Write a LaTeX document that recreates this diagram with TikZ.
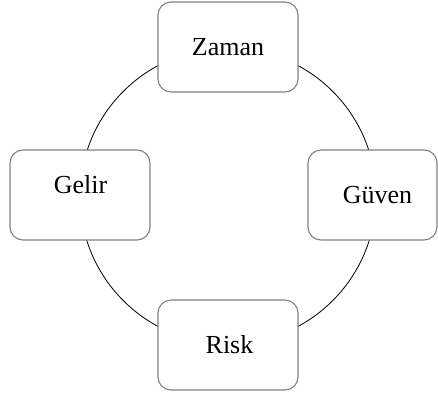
\documentclass[tikz,border=0pt]{standalone}
\usepackage{fontspec}
\setmainfont{Liberation Serif}
\begin{document}
\begin{tikzpicture}[x=1pt,y=-1pt,
  card/.style={draw=black!50,line width=1.1pt,fill=white,rounded corners=13pt,
    minimum height=90pt,inner sep=0pt,outer sep=0pt},
  word/.style={anchor=base,inner sep=0pt,font=\fontsize{26}{30}\selectfont}]
\useasboundingbox (0,0) rectangle (438,394);
% ring behind the cards
\coordinate (hub) at (228,196);
\draw[line width=0.8pt] (hub) circle (148);
% cards
\node[card,minimum width=140pt] (boxZ) at (228,47) {};
\node[card,minimum width=140pt] (boxG) at (80,195) {};
\node[card,minimum width=129pt] (boxV) at (372.5,195) {};
\node[card,minimum width=140pt] (boxR) at (228,345) {};
% labels
\node[word] (tZ) at (228,55) {Zaman};
\node[word] (tG) at (80.5,193) {Gelir};
\node[word] (tV) at (377.5,203) {Güven};
\node[word] (tR) at (229.5,353) {Risk};
\end{tikzpicture}
\end{document}
